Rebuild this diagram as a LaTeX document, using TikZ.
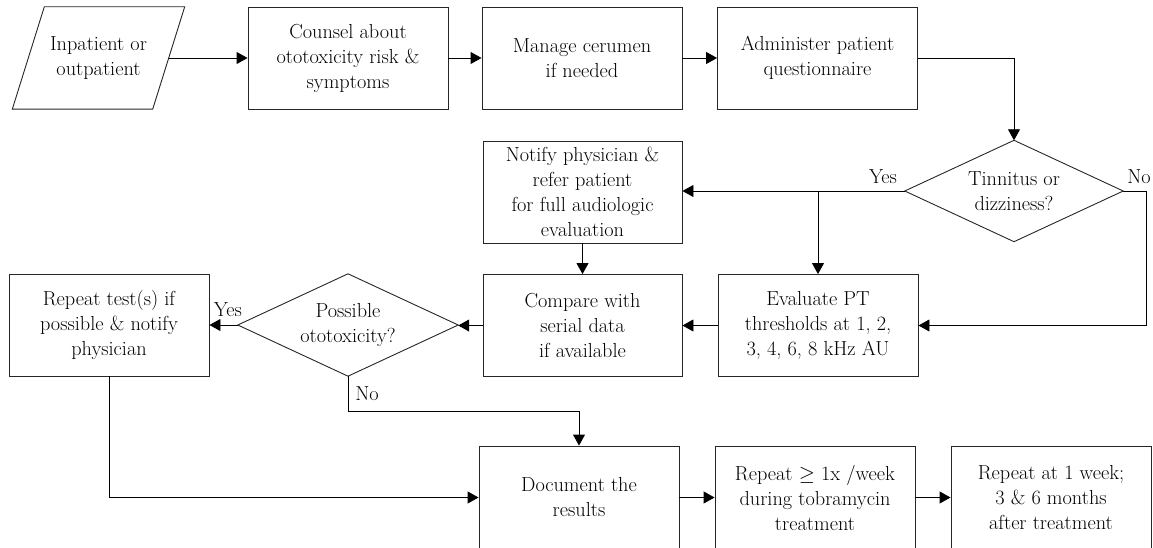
\documentclass[tikz,border=0pt]{standalone}
\usetikzlibrary{arrows.meta}
\begin{document}
\begin{tikzpicture}[x=1pt,y=-1pt,
  font=\fontsize{20.3}{25}\selectfont,
  every node/.style={inner sep=0pt},
  procbox/.style={draw=black!85,line width=0.9pt,minimum width=200pt,minimum height=102pt,align=center},
  ghost/.style={minimum width=#1,minimum height=102pt,align=center},
  arr/.style={line width=0.9pt,-{Triangle[length=11pt,width=12pt]}},
  ln/.style={line width=0.9pt},
  lbl/.style={anchor=base}]
\useasboundingbox (0,0) rectangle (1153,548);
\begin{scope}
\clip (0,0) rectangle (1153,548);
% top row
\node[ghost=140pt] (in) at (98.5,58) {Inpatient or\\outpatient};
\draw[ln,draw=black!85] ([xshift=-16pt]in.south west) -- ([xshift=-16pt]in.south east)
  -- ([xshift=16pt]in.north east) -- ([xshift=16pt]in.north west) -- cycle;
\node[procbox] (counsel) at (348,58) {Counsel about\\ototoxicity risk \&\\symptoms};
\node[procbox] (cerumen) at (582,58) {Manage cerumen\\if needed};
\node[procbox] (quest) at (817.5,58) {Administer patient\\questionnaire};
% decision 1
\node[minimum width=218pt,minimum height=101pt,align=center] (d1) at (1014,191) {Tinnitus or\\dizziness?};
\draw[ln,draw=black!85] (d1.north) -- (d1.east) -- (d1.south) -- (d1.west) -- cycle;
% middle row
\node[procbox,minimum width=199pt] (notify) at (582.5,192) {Notify physician \&\\refer patient\\for full audiologic\\evaluation};
\node[procbox,minimum width=199pt] (compare) at (582.5,325.5) {Compare with\\serial data\\if available};
\node[procbox] (eval) at (818,325.5) {Evaluate PT\\thresholds at 1, 2,\\3, 4, 6, 8 kHz AU};
\node[minimum width=220pt,minimum height=102pt,align=center] (d2) at (348,325) {Possible\\ototoxicity?};
\draw[ln,draw=black!85] (d2.north) -- (d2.east) -- (d2.south) -- (d2.west) -- cycle;
\node[procbox] (repeat) at (109,325) {Repeat test(s) if\\possible \& notify\\physician};
% bottom row
\node[procbox,minimum height=103pt] (doc) at (579,497.5) {Document the\\results};
\node[procbox,minimum height=103pt] (weekly) at (815,497.5) {Repeat $\geq$ 1x /week\\during tobramycin\\treatment};
\node[procbox,minimum height=103pt] (after) at (1051,497.5) {Repeat at 1 week;\\3 \& 6 months\\after treatment};
\end{scope}
% connectors
\draw[arr] (in.east) -- (counsel.west);
\draw[arr] (counsel.east) -- (cerumen.west);
\draw[arr] (cerumen.east) -- (quest.west);
\draw[arr] (quest.east) -| (d1.north);
\draw[arr] (d1.west) -- (d1.west -| notify.east);
\draw[arr] (d1.west -| eval.north) -- (eval.north);
\coordinate (nocorner) at (1146,191);
\draw[arr] (d1.east) -- (nocorner) |- (eval.east);
\draw[arr] (notify.south) -- (compare.north);
\draw[arr] (eval.west) -- (eval.west -| compare.east);
\draw[arr] (compare.west) -- (compare.west -| d2.east);
\draw[arr] (d2.west) -- (d2.west -| repeat.east);
\coordinate (nobend) at (348,411);
\draw[arr] (d2.south) -- (nobend) -| (doc.north);
\draw[arr] (repeat.south) |- (doc.west);
\draw[arr] (doc.east) -- (weekly.west);
\draw[arr] (weekly.east) -- (after.west);
% labels
\node[lbl] (y1) at (883,184) {Yes};
\node[lbl] (n1) at (1139,184) {No};
\node[lbl] (y2) at (228,316) {Yes};
\node[lbl] (n2) at (367,400) {No};
\end{tikzpicture}
\end{document}
